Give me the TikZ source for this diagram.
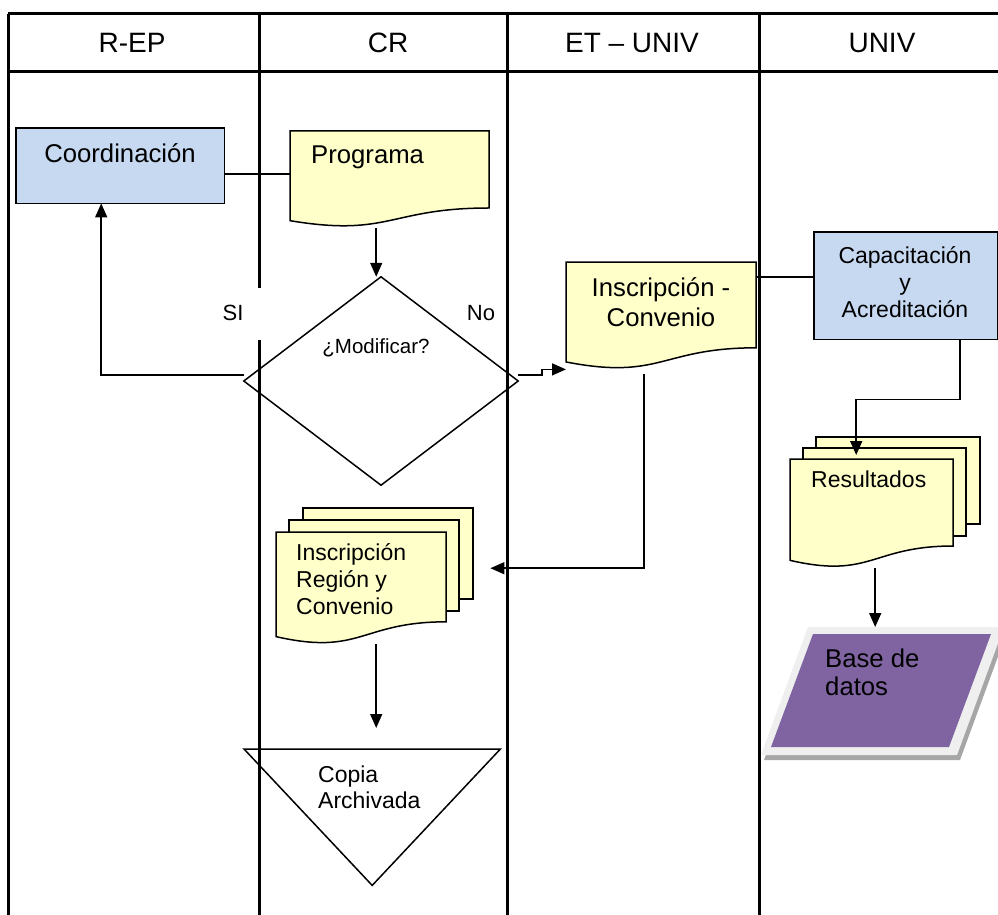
\documentclass[tikz,border=0pt]{standalone}
\usepackage{fontspec}
\setmainfont{Liberation Sans}
\usetikzlibrary{arrows.meta,calc}
\definecolor{docyel}{HTML}{FFFFC9}
\definecolor{boxblue}{HTML}{C6D9F1}
\definecolor{dbpurple}{HTML}{8064A2}
\definecolor{dbrim}{HTML}{EFEFEF}
\definecolor{dbshadow}{HTML}{A6A6A6}
\newcommand\docshape[4]{%
  \filldraw[outline,fill=docyel] (#1,#2) -- (#3,#2) -- ({#3},{#2+0.802*#4})
    .. controls ({(#1+#3)/2},{#2+0.802*#4}) and ({(#1+#3)/2},{#2+1.1075*#4}) ..
    ({#1},{#2+0.934*#4}) -- cycle;}
\begin{document}
\begin{tikzpicture}[x=1pt,y=-1pt,
  grid/.style={line width=3pt},
  outline/.style={draw=black,line width=1.5pt},
  conn/.style={line width=1.5pt},
  arr/.style={conn,-{Triangle[length=14pt,width=12pt]}},
  area/.style={draw=none,inner sep=0pt,anchor=north west},
  hdr/.style={font=\fontsize{28}{32}\selectfont,anchor=base,inner sep=0pt},
  big/.style={font=\fontsize{25.7}{30}\selectfont,inner sep=0pt},
  mid/.style={font=\fontsize{23}{27}\selectfont,inner sep=0pt},
  small/.style={font=\fontsize{20.5}{24}\selectfont,inner sep=0pt,anchor=base},
  lbl/.style={font=\fontsize{22}{26}\selectfont,inner sep=0pt,anchor=base}]
\useasboundingbox (0,0) rectangle (998,915);
% ---- swimlane table
\draw[grid] (8,14) -- (998,14);
\draw[grid] (8,72) -- (998,72);
\draw[grid] (8,14) -- (8,915);
\draw[grid] (259,14) -- (259,288);
\draw[grid] (259,340) -- (259,915);
\draw[grid] (507,14) -- (507,915);
\draw[grid] (759,14) -- (759,915);
\node[hdr] (h1) at (132,53) {R-EP};
\node[hdr] (h2) at (388,53) {CR};
\node[hdr] (h3) at (632,53) {ET – UNIV};
\node[hdr] (h4) at (882,53) {UNIV};
% ---- shape areas (named)
\node[area,minimum width=208pt,minimum height=75pt] (coord) at (16,128) {};
\node[area,minimum width=199pt,minimum height=97pt] (prog) at (290,131) {};
\node[draw=none,inner sep=0pt,minimum width=274pt,minimum height=208pt] (dia) at (381,381) {};
\node[area,minimum width=190pt,minimum height=108pt] (insc) at (566,262) {};
\node[area,minimum width=183pt,minimum height=107pt] (cap) at (814,232) {};
\node[area,minimum width=163pt,minimum height=109pt] (res) at (790,459) {};
\node[area,minimum width=170pt,minimum height=112pt] (inreg) at (276,532) {};
\node[area,minimum width=256pt,minimum height=136pt] (tri) at (244,749) {};
\node[area,minimum width=243pt,minimum height=128pt] (base) at (761,627) {};
% ---- shapes
\filldraw[outline,fill=boxblue] (coord.north west) rectangle (coord.south east);
\node[big,anchor=base] (tcoord) at (120,162) {Coordinación};
\docshape{290}{131}{489}{96}
\node[big,anchor=base west] (tprog) at (311,164) {Programa};
\draw[outline] (dia.north) -- (dia.east) -- (dia.south) -- (dia.west) -- cycle;
\node[small] (tdia) at (376,353) {¿Modificar?};
\fill[white] (215,288) rectangle (250,340);
\node[lbl] (si) at (233,320) {SI};
\node[lbl] (no) at (481,320) {No};
\docshape{566}{262}{756}{107}
\node[big,anchor=base] (tinsc) at (661,296) {\begin{tabular}[t]{@{}c@{}}Inscripción -\\Convenio\end{tabular}};
\filldraw[outline,fill=boxblue] (cap.north west) rectangle (cap.south east);
\node[mid,anchor=base] (tcap) at (905,263) {\begin{tabular}[t]{@{}c@{}}Capacitación\\y\\Acreditación\end{tabular}};
\filldraw[outline,fill=docyel] (816,437) rectangle (980,524);
\filldraw[outline,fill=docyel] (803,448) rectangle (966,536);
\docshape{790}{459}{953}{108.5}
\node[mid,anchor=base west] (tres) at (811,487) {Resultados};
\filldraw[outline,fill=docyel] (303,508) rectangle (473,599);
\filldraw[outline,fill=docyel] (289,520) rectangle (459,611);
\docshape{276}{532}{446}{112}
\node[mid,anchor=base west] (tinreg) at (296,560) {\begin{tabular}[t]{@{}l@{}}Inscripción\\Región y\\Convenio\end{tabular}};
\draw[outline] (tri.north west) -- (tri.north east) -- (tri.south) -- cycle;
\node[mid,anchor=base west,font=\fontsize{23}{26}\selectfont] (ttri) at (318,782) {\begin{tabular}[t]{@{}l@{}}Copia\\Archivada\end{tabular}};
% database parallelogram
\fill[dbshadow] (811,632) -- (1007,632) -- (960,760) -- (764,760) -- cycle;
\fill[dbrim] (808,627) -- (1004,627) -- (957,755) -- (761,755) -- cycle;
\fill[dbpurple] (813,634) -- (991,634) -- (949,747) -- (771,747) -- cycle;
\node[big,anchor=base west,font=\fontsize{25.7}{28}\selectfont] (tbase) at (825,667) {\begin{tabular}[t]{@{}l@{}}Base de\\datos\end{tabular}};
% ---- connectors
\coordinate (triin) at ($(tri.north)+(4,-21)$);
\coordinate (resin) at ($(res.north)+(-15.5,-4)$);
\coordinate (regin) at ($(inreg.east)+(44,-20)$);
\draw[conn] ([yshift=-8.5pt]coord.east) -- ([yshift=-8.5pt]coord.east -| prog.west);
\draw[arr] ([xshift=-13.5pt]prog.south) -- ([xshift=-13.5pt]prog.south |- dia.north);
\draw[arr] ([yshift=6pt]dia.west) -| ([xshift=-19pt]coord.south);
\draw[arr] ([yshift=6pt]dia.east) -- ++(24,0) |- ([yshift=1pt]insc.south west);
\draw[conn] ([yshift=-15pt]insc.north east) -- ([yshift=-15pt]insc.north east -| cap.west);
\draw[arr] ([xshift=-17pt,yshift=-4pt]insc.south) |- (regin);
\draw[arr] ([xshift=54.5pt]cap.south) -- ++(0,60) -| (resin);
\draw[arr] ([xshift=3.5pt]res.south) -- ([xshift=3.5pt]res.south |- base.north);
\draw[arr] (triin |- inreg.south) -- (triin);
\end{tikzpicture}
\end{document}
